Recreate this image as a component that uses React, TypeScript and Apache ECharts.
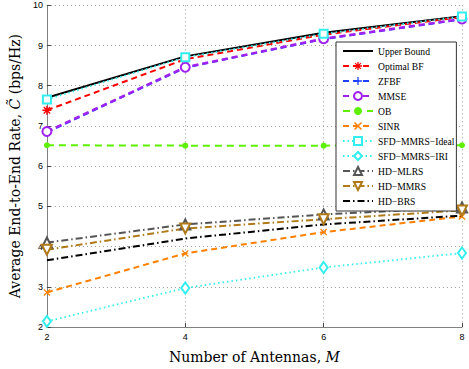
import React, { useEffect, useRef } from "react";
import * as echarts from "echarts";

const antennas = [2, 4, 6, 8];
const upperBound = [7.7, 8.73, 9.32, 9.73];
const optimalBF = [7.39, 8.66, 9.27, 9.71];
const zfbf = [6.84, 8.45, 9.16, 9.65];
const mmse = [6.86, 8.46, 9.17, 9.66];
const ob = [6.52, 6.51, 6.51, 6.52];
const sinr = [2.86, 3.83, 4.36, 4.75];
const sfdIdeal = [7.66, 8.71, 9.29, 9.72];
const sfdIri = [2.14, 2.97, 3.48, 3.84];
const hdMlrs = [4.1, 4.55, 4.8, 4.97];
const hdMmrs = [3.92, 4.45, 4.68, 4.9];
const hdBrs = [3.66, 4.2, 4.55, 4.77];

const yTicks = [2, 3, 4, 5, 6, 7, 8, 9, 10];

const DIAG =
  "M-0.601,-0.813L0.813,0.601L0.601,0.813L-0.813,-0.601Z" +
  "M-0.601,0.813L-0.813,0.601L0.601,-0.813L0.813,-0.601Z";
const PLUSP =
  "M-0.16,-1L0.16,-1L0.16,1L-0.16,1Z" + "M-1,-0.16L1,-0.16L1,0.16L-1,0.16Z";
const STAR = "path://" + PLUSP + DIAG;
const PLUS = "path://" + PLUSP;
const CROSS = "path://" + DIAG;

const dash = [6, 4];
const dashDot = [7, 3, 1.5, 3];
const dotted = [1.5, 3];

function mk(
  name: string,
  data: number[],
  color: string,
  type: any,
  width: number,
  symbol: string,
  size: any,
  extra: any = {}
) {
  return {
    name,
    type: "line",
    data: antennas.map((x, i) => [x, data[i]]),
    clip: false,
    symbol,
    symbolSize: size,
    showSymbol: true,
    lineStyle: { color, type, width },
    itemStyle: { color, borderColor: color, borderWidth: 1.8 },
    ...extra,
  };
}

export default function App() {
  const ref = useRef<HTMLDivElement>(null);
  useEffect(() => {
    const chart = echarts.init(ref.current!, undefined, { renderer: "svg" });
    const serif = "DejaVu Serif";
    chart.setOption({
      animation: false,
      backgroundColor: "#fff",
      grid: { left: 40, right: 7, top: 5.3, bottom: 31, containLabel: false },
      xAxis: {
        type: "value",
        min: 2,
        max: 8,
        interval: 2,
        axisLine: { show: true, onZero: false, lineStyle: { color: "#808080", width: 1 } },
        axisTick: { show: true, inside: true, length: 4, lineStyle: { color: "#444" } },
        axisLabel: { color: "#000", fontSize: 9, fontFamily: "Liberation Sans", margin: 5 },
        splitLine: { show: true, lineStyle: { color: "#999999", type: [1, 3], width: 1 } },
        name: "{n|Number of Antennas, }{i|M}",
        nameLocation: "middle",
        nameGap: 23,
        nameTextStyle: {
          rich: {
            n: { fontFamily: serif, fontSize: 14, color: "#000" },
            i: { fontFamily: serif, fontSize: 14, fontStyle: "italic", color: "#000" },
          },
        },
      },
      yAxis: {
        type: "value",
        min: 2,
        max: 10,
        interval: 1,
        axisLine: { show: true, onZero: false, lineStyle: { color: "#808080", width: 1 } },
        axisTick: { show: true, inside: true, length: 4, lineStyle: { color: "#444" } },
        axisLabel: {
          color: "#000",
          fontSize: 9,
          fontFamily: "Liberation Sans",
          margin: 4,
          formatter: (v: number) => (yTicks.includes(v) ? String(v) : ""),
        },
        splitLine: { show: true, lineStyle: { color: "#999999", type: [1, 3], width: 1 } },
        name: "{n|Average End-to-End Rate, }{i|C\u0303}{n| (bps/Hz)}",
        nameLocation: "middle",
        nameGap: 22,
        nameTextStyle: {
          rich: {
            n: { fontFamily: serif, fontSize: 14, color: "#000" },
            i: { fontFamily: serif, fontSize: 14, fontStyle: "italic", color: "#000" },
          },
        },
      },
      legend: {
        orient: "vertical",
        left: 336,
        top: 42,
        padding: [4, 2, 5, 6],
        itemGap: 5,
        itemWidth: 30,
        itemHeight: 10,
        backgroundColor: "#fff",
        borderColor: "#333",
        borderWidth: 1,
        borderRadius: 0,
        textStyle: { fontFamily: "Liberation Serif", fontSize: 9.6, color: "#000", lineHeight: 10 },
      },
      series: [
        mk("Upper Bound", upperBound, "#000000", "solid", 2, "circle", 1, {
          showSymbol: false,
          itemStyle: { color: "rgba(0,0,0,0)", borderColor: "rgba(0,0,0,0)", borderWidth: 0 },
        }),
        mk("Optimal BF", optimalBF, "#ff0000", dash, 2, STAR, 9, {
          itemStyle: { color: "#ff0000", borderWidth: 0 },
        }),
        mk("ZFBF", zfbf, "#1f3fff", dash, 2, PLUS, 9, {
          itemStyle: { color: "#1f3fff", borderWidth: 0 },
        }),
        mk("MMSE", mmse, "#a020f0", dash, 2.5, "emptyCircle", 9, {
          itemStyle: { color: "#a020f0", borderColor: "#a020f0", borderWidth: 2 },
        }),
        mk("OB", ob, "#5ef000", [7, 5], 2, "circle", 6, {
          itemStyle: { color: "#5ef000", borderWidth: 0 },
        }),
        mk("SINR", sinr, "#ff8000", dash, 2, CROSS, 7, {
          itemStyle: { color: "#ff8000", borderWidth: 0 },
        }),
        mk("SFD\u2212MMRS\u2212Ideal", sfdIdeal, "#33eeee", dotted, 1.8, "emptyRect", 8, {
          itemStyle: { color: "#33eeee", borderColor: "#33eeee", borderWidth: 2 },
        }),
        mk("SFD\u2212MMRS\u2212IRI", sfdIri, "#33eeee", dotted, 1.8, "emptyDiamond", [8, 11], {
          itemStyle: { color: "#33eeee", borderColor: "#33eeee", borderWidth: 2 },
        }),
        mk("HD\u2212MLRS", hdMlrs, "#555555", dashDot, 2, "emptyTriangle", 10, {
          itemStyle: { color: "#555555", borderColor: "#555555", borderWidth: 2 },
        }),
        mk("HD\u2212MMRS", hdMmrs, "#b07a18", dashDot, 2, "emptyTriangle", 10, {
          symbolRotate: 180,
          itemStyle: { color: "#b07a18", borderColor: "#b07a18", borderWidth: 2 },
        }),
        mk("HD\u2212BRS", hdBrs, "#000000", dashDot, 2, "circle", 1, {
          showSymbol: false,
          itemStyle: { color: "rgba(0,0,0,0)", borderColor: "rgba(0,0,0,0)", borderWidth: 0 },
        }),
      ],
    });
    return () => chart.dispose();
  }, []);
  return (
    <div
      ref={ref}
      style={{ position: "fixed", left: 0, top: 0, width: 469, height: 369, background: "#fff" }}
    />
  );
}
